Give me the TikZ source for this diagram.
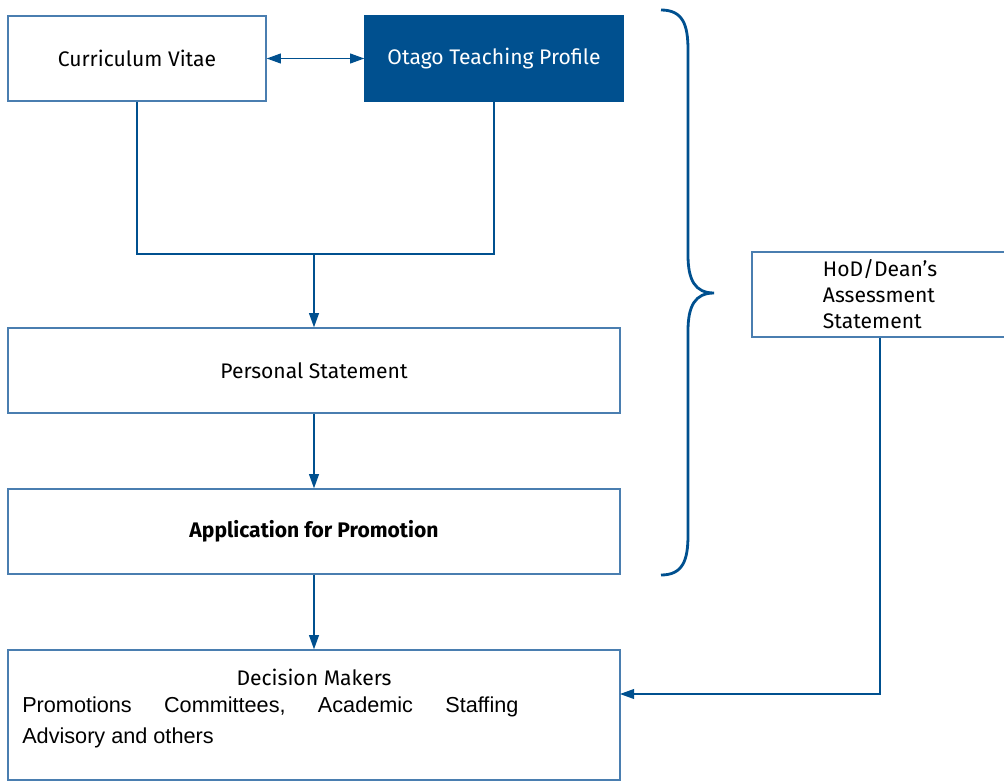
\documentclass[tikz,border=0pt]{standalone}
\usepackage{fontspec}
\setmainfont{Fira Sans}
\newfontfamily\arialfont{Liberation Sans}
\usepackage{tikz}
\usetikzlibrary{positioning}
\usetikzlibrary{arrows.meta}
\definecolor{otagoBlue}{RGB}{0,80,143}
\definecolor{edgeBlue}{RGB}{74,126,176}
\tikzset{
  stageBox/.style={rectangle, draw=edgeBlue, line width=1pt, fill=white, minimum height=2.125cm, font=\fontsize{15}{18.5}\selectfont},
  flowArrow/.style={draw=otagoBlue, line width=0.9pt, -{Triangle[length=10pt,width=7pt]}},
  flowLine/.style={draw=otagoBlue, line width=0.9pt}
}
\begin{document}
\begin{tikzpicture}[x=0.025cm, y=-0.025cm]
		\useasboundingbox (0,0) rectangle (1004,782);
		\node[stageBox, minimum width=6.45cm](cvBox) at (137,58.5){Curriculum Vitae};
		\node[stageBox, minimum width=6.45cm, fill=otagoBlue, draw=otagoBlue, text=white](otpBox) at (494,58.5){Otago Teaching Profile};
		\node[stageBox, minimum width=15.3cm](psBox) at (314,370.5){Personal Statement};
		\node[stageBox, minimum width=15.3cm](appBox) at (314,531.5){\bfseries Application for Promotion};
		\node[stageBox, minimum width=15.3cm, minimum height=3.25cm](dmBox) at (314,715){};
		\node[font=\fontsize{15}{18.5}\selectfont](dmTitle) at (314,677){Decision Makers};
		\node[anchor=north west, inner sep=0pt](dmList) at (22,697){\begin{minipage}{12.4cm}\arialfont\fontsize{15.4}{22}\selectfont Promotions\hfill Committees,\hfill Academic\hfill Staffing\\Advisory and others\end{minipage}};
		\node[stageBox, minimum width=6.4cm, align=left](hodBox) at (880,294.5){HoD/Dean's\\Assessment\\Statement};
		\coordinate(joinPt) at (314,254);
		\coordinate(dmIn) at (620,694);
		\draw[flowArrow, {Triangle[length=10pt,width=7pt]}-{Triangle[length=10pt,width=7pt]}] (cvBox) -- (otpBox);
		\draw[flowLine] (cvBox.south) |- (joinPt) -| (otpBox.south);
		\draw[flowArrow] (joinPt) -- (psBox.north);
		\draw[flowArrow] (psBox) -- (appBox);
		\draw[flowArrow] (appBox) -- (dmBox);
		\draw[flowArrow] (hodBox.south) |- (dmIn);
		% brace
		\draw[otagoBlue, line width=2pt] (661,10) .. controls (683,10) and (688,25) .. (688,50) -- (688,255) .. controls (688,280) and (695,293) .. (714,293) .. controls (695,293) and (688,306) .. (688,331) -- (688,535) .. controls (688,560) and (683,575) .. (661,575);
	\end{tikzpicture}
\end{document}
